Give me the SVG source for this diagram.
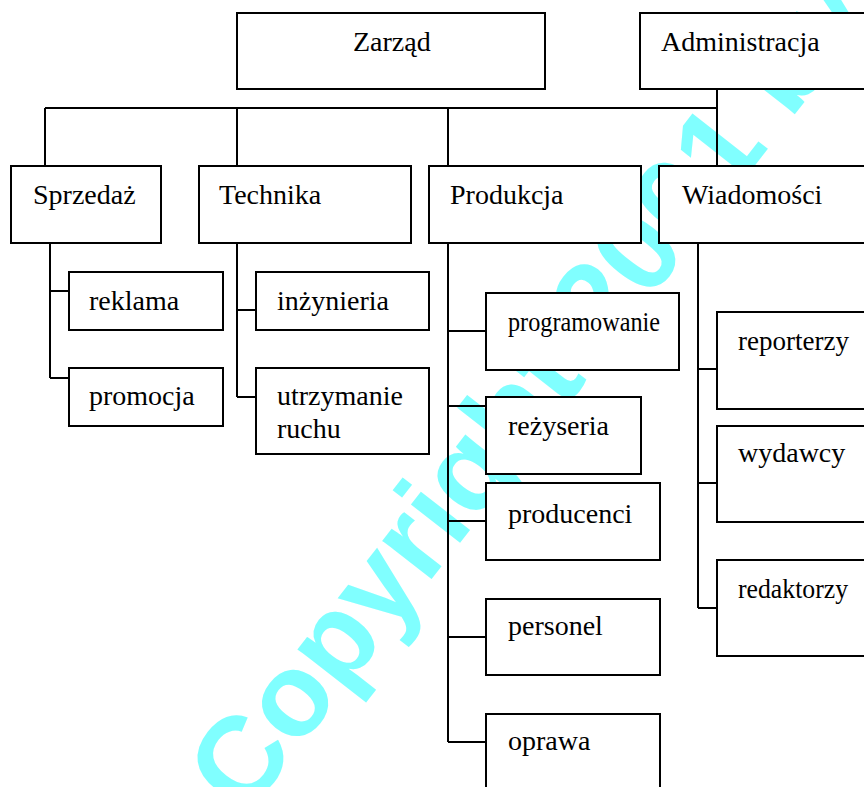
<svg xmlns="http://www.w3.org/2000/svg" width="864" height="787" viewBox="0 0 864 787">
<style>
.box{fill:#fff;stroke:#000;stroke-width:2}
.ln{fill:none;stroke:#000;stroke-width:2}
.t{font-family:"Liberation Serif","Times New Roman",serif;font-size:28px;fill:#000}
.wm{font-family:"Liberation Sans",Arial,sans-serif;font-weight:bold;font-size:118px;fill:#80FFFF}
</style>
<rect width="864" height="787" fill="#fff"/>
<text class="wm" transform="translate(245,818) rotate(-52)">Copyright 2001 by</text>
<g id="connectors" class="ln">
<path d="M45,108H717M717,89V166M45,108V166M237,108V166M448,108V166"/>
<path d="M50,243V378M50,291H69M50,378H69"/>
<path d="M237,243V397M237,310H256M237,397H256"/>
<path d="M448,243V742M448,331H486M448,406H486M448,521H486M448,637H486M448,742H486"/>
<path d="M698,243V608M698,369H717M698,483H717M698,608H717"/>
</g>
<g id="zarzad"><rect class="box" x="237" y="13" width="308" height="76"/><text class="t" x="353" y="51">Zarząd</text></g>
<g id="administracja"><rect class="box" x="640" y="13" width="240" height="76"/><text class="t" x="661" y="51">Administracja</text></g>
<g id="sprzedaz"><rect class="box" x="11" y="166" width="150" height="77"/><text class="t" x="33" y="204">Sprzedaż</text></g>
<g id="technika"><rect class="box" x="199" y="166" width="212" height="77"/><text class="t" x="219" y="204">Technika</text></g>
<g id="produkcja"><rect class="box" x="429" y="166" width="212" height="77"/><text class="t" x="450" y="204">Produkcja</text></g>
<g id="wiadomosci"><rect class="box" x="659" y="166" width="221" height="77"/><text class="t" x="682" y="204">Wiadomości</text></g>
<g id="reklama"><rect class="box" x="69" y="272" width="154" height="58"/><text class="t" x="89" y="310">reklama</text></g>
<g id="promocja"><rect class="box" x="69" y="368" width="154" height="58"/><text class="t" x="89" y="405">promocja</text></g>
<g id="inzynieria"><rect class="box" x="256" y="272" width="173" height="58"/><text class="t" x="277" y="310">inżynieria</text></g>
<g id="utrzymanie"><rect class="box" x="256" y="368" width="173" height="86"/><text class="t" x="277" y="405">utrzymanie</text><text class="t" x="277" y="438">ruchu</text></g>
<g id="programowanie"><rect class="box" x="486" y="293" width="193" height="77"/><text class="t" x="508" y="331" textLength="152" lengthAdjust="spacingAndGlyphs">programowanie</text></g>
<g id="rezyseria"><rect class="box" x="486" y="397" width="155" height="77"/><text class="t" x="508" y="435">reżyseria</text></g>
<g id="producenci"><rect class="box" x="486" y="483" width="174" height="77"/><text class="t" x="508" y="523">producenci</text></g>
<g id="personel"><rect class="box" x="486" y="599" width="174" height="76"/><text class="t" x="508" y="635">personel</text></g>
<g id="oprawa"><rect class="box" x="486" y="714" width="174" height="100"/><text class="t" x="508" y="750">oprawa</text></g>
<g id="reporterzy"><rect class="box" x="717" y="312" width="163" height="97"/><text class="t" x="738" y="350" textLength="111" lengthAdjust="spacingAndGlyphs">reporterzy</text></g>
<g id="wydawcy"><rect class="box" x="717" y="426" width="163" height="96"/><text class="t" x="738" y="462">wydawcy</text></g>
<g id="redaktorzy"><rect class="box" x="717" y="560" width="163" height="96"/><text class="t" x="738" y="598" textLength="110" lengthAdjust="spacingAndGlyphs">redaktorzy</text></g>
</svg>
